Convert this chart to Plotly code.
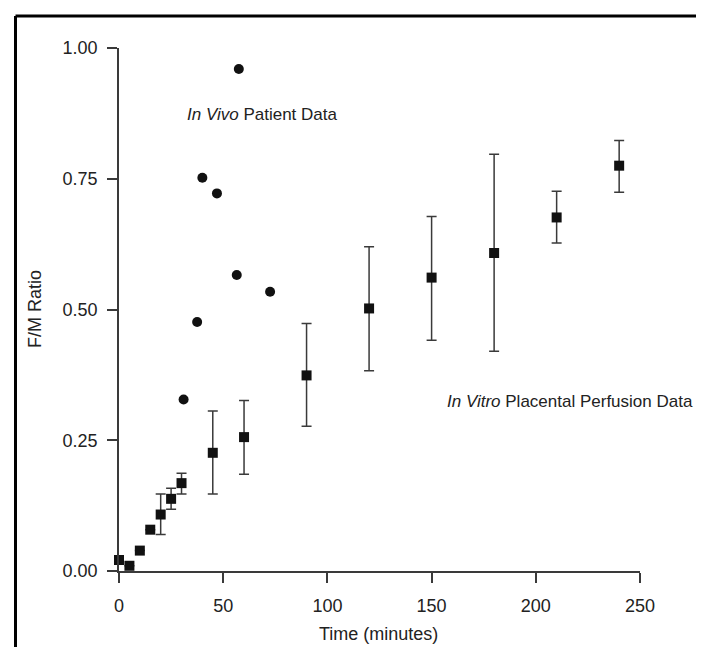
import plotly.graph_objects as go

# In vitro placental perfusion data (mean with error bars)
vitro_time = [0, 5, 10, 15, 20, 25, 30, 45, 60, 90, 120, 150, 180, 210, 240]
vitro_ratio = [0.021, 0.010, 0.039, 0.079, 0.108, 0.138, 0.168, 0.226, 0.256,
               0.374, 0.502, 0.561, 0.608, 0.676, 0.775]
vitro_upper = [None, None, None, None, 0.147, 0.158, 0.187, 0.306, 0.326,
               0.473, 0.620, 0.678, 0.797, 0.726, 0.823]
vitro_lower = [None, None, None, None, 0.070, 0.118, 0.147, 0.147, 0.185,
               0.277, 0.383, 0.441, 0.420, 0.627, 0.724]

# In vivo patient data
vivo_time = [31, 37.5, 40, 47, 56.5, 57.5, 72.5]
vivo_ratio = [0.328, 0.476, 0.752, 0.722, 0.566, 0.960, 0.534]

x_ticks = [0, 50, 100, 150, 200, 250]
y_ticks = [0.00, 0.25, 0.50, 0.75, 1.00]
y_tick_labels = ["0.00", "0.25", "0.50", "0.75", "1.00"]

err_plus = [None if u is None else u - v for u, v in zip(vitro_upper, vitro_ratio)]
err_minus = [None if l is None else v - l for l, v in zip(vitro_lower, vitro_ratio)]

FONT = "Liberation Sans, Arial, sans-serif"
LINE = "#3a3a3a"

fig = go.Figure()
fig.add_trace(go.Scatter(
    x=vivo_time, y=vivo_ratio, mode="markers",
    marker=dict(symbol="circle", size=10, color="#111111"),
    cliponaxis=False, showlegend=False, name="In Vivo Patient Data"))
fig.add_trace(go.Scatter(
    x=vitro_time, y=vitro_ratio, mode="markers",
    marker=dict(symbol="square", size=10, color="#111111"),
    error_y=dict(type="data", symmetric=False, array=err_plus, arrayminus=err_minus,
                 color=LINE, thickness=1.5, width=5),
    cliponaxis=False, showlegend=False, name="In Vitro Placental Perfusion Data"))

L, R, T, B = 111, 72, 40, 84
W, H = 704, 647
pw, ph = W - L - R, H - T - B

def px_to_paper_x(px):
    return (px - L) / pw

def px_to_paper_y(py):
    return (H - B - py) / ph

fig.update_layout(
    width=W, height=H,
    margin=dict(l=L, r=R, t=T, b=B),
    paper_bgcolor="white", plot_bgcolor="white",
    font=dict(family=FONT, color="#222222", size=18),
    xaxis=dict(range=[0, 250], tickvals=x_ticks, showgrid=False, zeroline=False,
               showline=True, linecolor=LINE, linewidth=1.5,
               ticks="outside", ticklen=10, tickwidth=1.5, tickcolor=LINE,
               ticklabelstandoff=8, tickfont=dict(size=18, family=FONT, color="#222222")),
    yaxis=dict(range=[0, 1.0], tickvals=y_ticks, ticktext=y_tick_labels, showgrid=False,
               zeroline=False, showline=True, linecolor=LINE, linewidth=1.5,
               ticks="outside", ticklen=10, tickwidth=1.5, tickcolor=LINE,
               ticklabelstandoff=6, tickfont=dict(size=18, family=FONT, color="#222222")),
    annotations=[
        dict(x=31.5, y=0.872, xref="x", yref="y", xanchor="left", yanchor="middle",
             text="<i>In Vivo</i> Patient Data", showarrow=False,
             font=dict(size=17, family=FONT, color="#222222")),
        dict(x=156.3, y=0.325, xref="x", yref="y", xanchor="left", yanchor="middle",
             text="<i>In Vitro</i> Placental Perfusion Data", showarrow=False,
             font=dict(size=17, family=FONT, color="#222222")),
        dict(x=px_to_paper_x(370), y=px_to_paper_y(626), xref="paper", yref="paper",
             xanchor="center", yanchor="middle", text="Time (minutes)", showarrow=False,
             font=dict(size=18, family=FONT, color="#222222")),
        dict(x=px_to_paper_x(27), y=px_to_paper_y(301), xref="paper", yref="paper",
             xanchor="center", yanchor="middle", text="F/M Ratio", textangle=-90,
             showarrow=False, font=dict(size=18, family=FONT, color="#222222")),
    ],
    shapes=[
        dict(type="line", xref="paper", yref="paper",
             x0=px_to_paper_x(7.5), x1=px_to_paper_x(702), y0=px_to_paper_y(8), y1=px_to_paper_y(8),
             line=dict(color="black", width=3)),
        dict(type="line", xref="paper", yref="paper",
             x0=px_to_paper_x(7.5), x1=px_to_paper_x(7.5), y0=px_to_paper_y(8), y1=px_to_paper_y(650),
             line=dict(color="black", width=3)),
    ],
)

fig.write_html("out.html")
